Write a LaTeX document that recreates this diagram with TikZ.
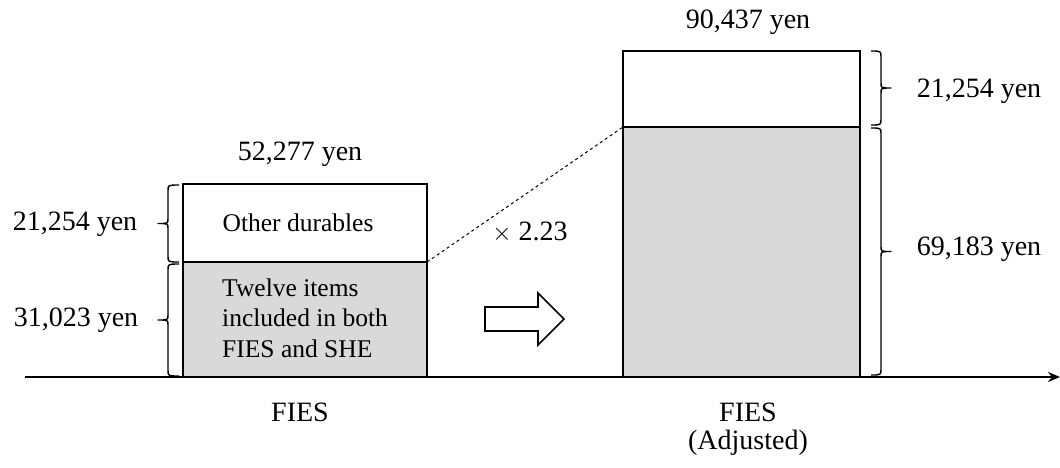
\documentclass[tikz,border=0pt]{standalone}
\usepackage{fontspec}
\setmainfont{Liberation Serif}
\usetikzlibrary{arrows.meta}
% curly brace: #1 stub x, #2 spine x, #3 tip x, #4 top y, #5 bottom y
\newcommand\curlybrace[5]{%
  \pgfmathsetmacro\bm{(#4+#5)/2}%
  \draw[bracestyle] (#1,#4) .. controls (#2,#4) .. (#2,#4+6) -- (#2,\bm-5)
    .. controls (#2,\bm) .. (#3,\bm) .. controls (#2,\bm) .. (#2,\bm+5)
    -- (#2,#5-6) .. controls (#2,#5) .. (#1,#5);}
\begin{document}
\begin{tikzpicture}[x=1pt,y=-1pt,
  bar/.style={draw=black,line width=2.2pt},
  upper/.style={bar,fill=white},
  lower/.style={bar,fill=black!15},
  lbl/.style={font=\fontsize{28}{32}\selectfont,inner sep=0pt,yshift=-2pt},
  inlbl/.style={font=\fontsize{25.5}{30.5}\selectfont,align=left,inner sep=0pt},
  bracestyle/.style={line width=1.4pt,line join=round}]
\useasboundingbox (0,0) rectangle (1060,467);

% horizontal axis
\coordinate (axL) at (25,377);
\coordinate (axR) at (1060,377);
\draw[line width=2pt,-{Stealth[length=12pt,width=10pt]}] (axL) -- (axR);

% left bar
\draw[lower] (183,262) rectangle (427,377);
\draw[upper] (183,184) rectangle (427,262);
\coordinate (lTopR) at (427,262);

% right bar
\draw[lower] (623,127) rectangle (860,377);
\draw[upper] (623,51) rectangle (860,127);
\coordinate (rTopL) at (623,127);

% scaling line
\draw[dashed,line width=1pt] (lTopR) -- (rTopL);

% block arrow
\draw[line width=1.6pt,fill=white] (485,307) -- (538,307) -- (538,293) -- (564,319)
  -- (538,345) -- (538,331) -- (485,331) -- cycle;

% totals and inner texts
\node[lbl] (tL) at (300,152) {52,277 yen};
\node[lbl] (tR) at (748,20) {90,437 yen};
\node[inlbl] (od) at (298,223) {Other durables};
\node[inlbl,anchor=west] (tw) at (222,318) {Twelve items\\included in both\\FIES and SHE};
\node[lbl] (mul) at (530,230) {$\times$ 2.23};

% braces, left
\curlybrace{179}{168}{158}{185}{262}
\curlybrace{179}{168}{158}{264}{376}
\node[lbl] (bl1) at (75,222) {21,254 yen};
\node[lbl] (bl2) at (76,318) {31,023 yen};

% braces, right
\curlybrace{871}{881}{891}{51}{125}
\curlybrace{871}{881}{891}{128}{375}
\node[lbl] (br1) at (979,89) {21,254 yen};
\node[lbl] (br2) at (979,247) {69,183 yen};

% axis labels
\node[lbl] (xL) at (300,410) {FIES};
\node[lbl] (xR1) at (748,410) {FIES};
\node[lbl] (xR2) at (748,441) {(Adjusted)};
\end{tikzpicture}
\end{document}
